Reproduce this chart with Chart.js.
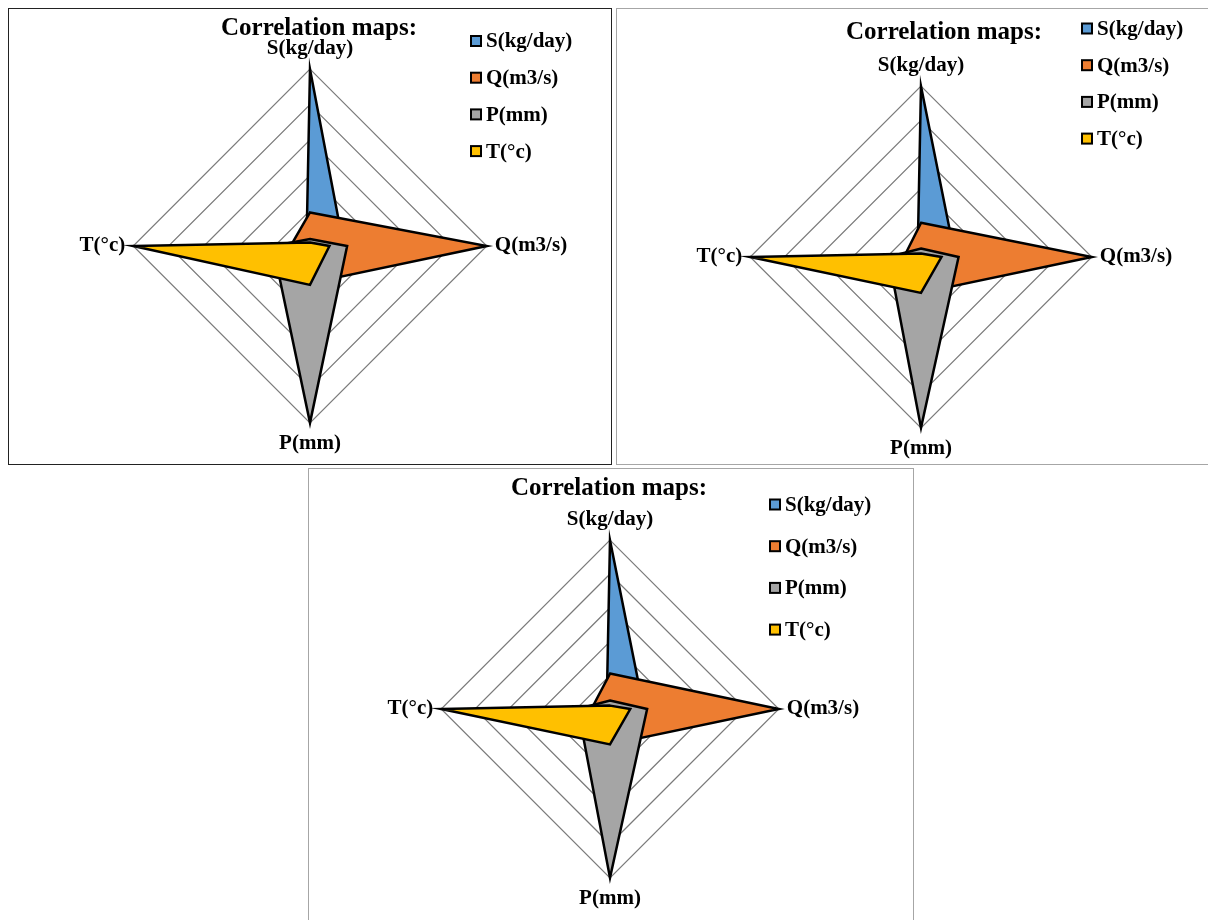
<!DOCTYPE html>
<html>
<head>
<meta charset="utf-8">
<script src="https://cdn.jsdelivr.net/npm/chart.js@4.4.0/dist/chart.umd.min.js"></script>
<style>
    html, body { margin: 0; padding: 0; background: #fff; overflow: hidden; }
    body { width: 1208px; height: 920px; position: relative; }
    .corr-box { position: absolute; box-sizing: content-box; background: #fff; }
    .corr-box canvas { position: absolute; left: 0; top: 0; }
    #box1 { left: 8px; top: 8px; width: 602px; height: 455px; border: 1px solid #222; }
    #box2 { left: 616px; top: 8px; width: 592px; height: 455px; border: 1px solid #a6a6a6; }
    #box3 { left: 308px; top: 468px; width: 604px; height: 460px; border: 1px solid #a6a6a6; }
</style>
</head>
<body>
<div class="corr-box" id="box1"><canvas id="corrChart1" width="602" height="455"></canvas></div>
<div class="corr-box" id="box2"><canvas id="corrChart2" width="592" height="455"></canvas></div>
<div class="corr-box" id="box3"><canvas id="corrChart3" width="604" height="460"></canvas></div>

<script>
const categories = ['S(kg/day)', 'Q(m3/s)', 'P(mm)', 'T(°c)'];
const seriesNames = ['S(kg/day)', 'Q(m3/s)', 'P(mm)', 'T(°c)'];
const seriesColors = ['#5b9bd5', '#ed7d31', '#a5a5a5', '#ffc000'];
const chartTitle = 'Correlation maps:';

// first map
const map1S = [1, 0.19, 0.04, 0.02];
const map1Q = [0.19, 1, 0.21, 0.11];
const map1P = [0.04, 0.21, 1, 0.21];
const map1T = [0.02, 0.11, 0.22, 1];

// second map
const map2S = [1, 0.20, 0.05, 0.02];
const map2Q = [0.20, 1, 0.21, 0.10];
const map2P = [0.05, 0.22, 1, 0.19];
const map2T = [0.02, 0.12, 0.21, 1];

// third map
const map3S = [1, 0.20, 0.05, 0.02];
const map3Q = [0.21, 1, 0.21, 0.11];
const map3P = [0.05, 0.22, 1, 0.19];
const map3T = [0.02, 0.12, 0.21, 1];

const serifFont = "'Liberation Serif', 'Times New Roman', serif";

// title + legend drawn at fixed spots inside each box
const boxLabels = {
    id: 'boxLabels',
    afterDraw(chart, args, opts) {
        const ctx = chart.ctx;
        ctx.save();
        ctx.fillStyle = '#000';
        ctx.textBaseline = 'middle';
        ctx.textAlign = 'center';
        ctx.font = 'bold 25px ' + serifFont;
        ctx.fillText(opts.title, opts.titleX, opts.titleY);

        ctx.textAlign = 'left';
        ctx.font = 'bold 21px ' + serifFont;
        chart.data.datasets.forEach(function (ds, i) {
            const y = opts.legendY + i * opts.legendStep;
            ctx.fillStyle = ds.backgroundColor;
            ctx.fillRect(opts.legendX, y - 5, 10, 10);
            ctx.lineWidth = 2;
            ctx.strokeStyle = '#000';
            ctx.strokeRect(opts.legendX, y - 5, 10, 10);
            ctx.fillStyle = '#000';
            ctx.fillText(ds.label, opts.legendX + 15, y + 1);
        });
        ctx.restore();
    }
};

function buildDatasets(rows) {
    return rows.map(function (values, i) {
        return {
            label: seriesNames[i],
            data: values,
            backgroundColor: seriesColors[i],
            borderColor: '#000',
            borderWidth: 2.5,
            borderJoinStyle: 'miter',
            fill: true,
            pointRadius: 0,
            pointHoverRadius: 0,
            tension: 0,
            order: rows.length - i
        };
    });
}

function drawMap(canvasId, rows, padding, labelPos) {
    return new Chart(document.getElementById(canvasId), {
        type: 'radar',
        data: {
            labels: categories,
            datasets: buildDatasets(rows)
        },
        options: {
            responsive: false,
            animation: false,
            layout: { padding: padding },
            scales: {
                r: {
                    min: 0,
                    max: 1,
                    ticks: { display: false, stepSize: 0.2 },
                    grid: { color: '#7a7a7a', lineWidth: 1.2 },
                    angleLines: { display: false },
                    pointLabels: {
                        color: '#000',
                        padding: 8,
                        font: { family: serifFont, size: 21, weight: 'bold' }
                    }
                }
            },
            plugins: {
                legend: { display: false },
                tooltip: { enabled: false },
                boxLabels: Object.assign({ title: chartTitle }, labelPos)
            }
        },
        plugins: [boxLabels]
    });
}

drawMap('corrChart1', [map1S, map1Q, map1P, map1T],
    { top: 27, bottom: 8, left: 0, right: 0 },
    { titleX: 310, titleY: 19.5, legendX: 462, legendY: 32, legendStep: 36.7 });

drawMap('corrChart2', [map2S, map2Q, map2P, map2T],
    { top: 44, bottom: 3, left: 16, right: 0 },
    { titleX: 327, titleY: 23.5, legendX: 465, legendY: 19.5, legendStep: 36.7 });

drawMap('corrChart3', [map3S, map3Q, map3P, map3T],
    { top: 38, bottom: 18, left: 0, right: 2 },
    { titleX: 300, titleY: 20, legendX: 461, legendY: 35.5, legendStep: 41.7 });
</script>
</body>
</html>
